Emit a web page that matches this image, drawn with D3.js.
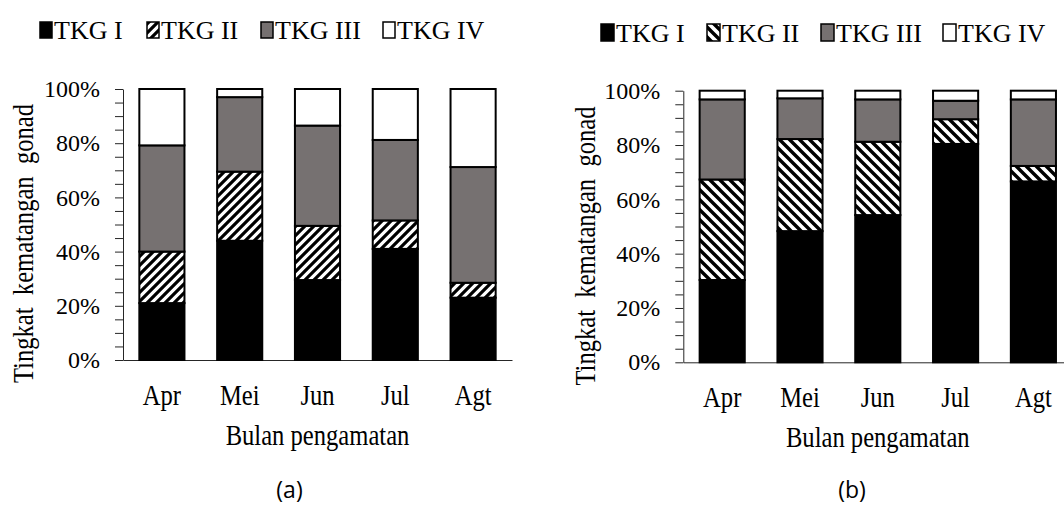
<!DOCTYPE html>
<html>
<head>
<meta charset="utf-8">
<script src="https://cdn.jsdelivr.net/npm/d3@7"></script>
<style>
  html, body { margin: 0; padding: 0; background: #fff; }
  svg { display: block; }
</style>
</head>
<body>
<script>
// Months, maturity stages and axis ticks
const months = ["Apr", "Mei", "Jun", "Jul", "Agt"];
const stages = ["TKG I", "TKG II", "TKG III", "TKG IV"];
const yTicks = [0, 20, 40, 60, 80, 100];

// Panel (a): share of each gonad maturity stage per month (%)
const tkgA1 = [21.0, 44.0, 29.5, 41.0, 23.0];
const tkgA2 = [19.0, 25.5, 20.0, 10.5, 5.5];
const tkgA3 = [39.2, 27.5, 37.0, 29.7, 42.7];
const tkgA4 = [20.8, 3.0, 13.5, 18.8, 28.8];

// Panel (b): share of each gonad maturity stage per month (%)
const tkgB1 = [30.3, 48.3, 54.2, 80.4, 66.6];
const tkgB2 = [37.0, 33.9, 27.0, 9.1, 5.7];
const tkgB3 = [29.5, 15.0, 15.6, 6.8, 24.5];
const tkgB4 = [3.2, 2.8, 3.2, 3.7, 3.2];

const W = 1064, H = 507;
const SERIF = "'Liberation Serif', 'Times New Roman', serif";
const SANS = "'Open Sans', 'Noto Sans', sans-serif";
const GRAY = "#767171";
const AXIS = "#262626";

const svg = d3.select("body").append("svg")
  .attr("width", W).attr("height", H)
  .style("background", "#fff");
const defs = svg.append("defs");

// Diagonal hatch: "fwd" = "/" stripes, "back" = "\" stripes
function hatch(id, dir, s, sw) {
  const p = defs.append("pattern")
    .attr("id", id)
    .attr("patternUnits", "userSpaceOnUse")
    .attr("width", s).attr("height", s);
  p.append("rect").attr("width", s).attr("height", s).attr("fill", "#fff");
  const d = dir === "fwd"
    ? `M${-s/2},${s/2}L${s/2},${-s/2}M0,${s}L${s},0M${s/2},${1.5*s}L${1.5*s},${s/2}`
    : `M${-s/2},${s/2}L${s/2},${1.5*s}M0,0L${s},${s}M${s/2},${-s/2}L${1.5*s},${s/2}`;
  p.append("path").attr("d", d)
    .attr("stroke", "#000").attr("stroke-width", sw)
    .attr("stroke-linecap", "square");
}
hatch("hatchA", "fwd", 9, 3.2);
hatch("hatchB", "back", 10, 3.4);

const panels = [
  {
    series: [tkgA1, tkgA2, tkgA3, tkgA4], hatchId: "hatchA",
    x0: 123, x1: 512, yBottom: 360, yTop: 89,
    titleX: 33, titleY: 243.5, caption: "(a)", captionX: 289.5,
    legendBoxX: [40, 147, 261, 383], legendTop: 22, boxW: 12, boxH: 16, legendBase: 39
  },
  {
    series: [tkgB1, tkgB2, tkgB3, tkgB4], hatchId: "hatchB",
    x0: 683.3, x1: 1072.3, yBottom: 362.3, yTop: 90.7,
    titleX: 595, titleY: 246, caption: "(b)", captionX: 852,
    legendBoxX: [601, 707, 821, 943], legendTop: 24, boxW: 13, boxH: 17, legendBase: 42
  }
];

function drawPanel(cfg) {
  const g = svg.append("g");
  const fills = ["#000", `url(#${cfg.hatchId})`, GRAY, "#fff"];
  const color = d3.scaleOrdinal().domain(stages).range(fills);

  const x = d3.scaleBand().domain(months)
    .range([cfg.x0, cfg.x1]).paddingInner(0.42).paddingOuter(0.21);
  const y = d3.scaleLinear().domain([0, 100]).range([cfg.yBottom, cfg.yTop]);

  const rows = months.map((m, i) => {
    const r = { month: m };
    stages.forEach((s, k) => { r[s] = cfg.series[k][i]; });
    return r;
  });
  const stacked = d3.stack().keys(stages)(rows);

  // y axis with minor ticks every 5 %
  const yAxis = d3.axisLeft(y)
    .tickValues(d3.range(0, 101, 5))
    .tickSize(8).tickSizeOuter(0).tickFormat("");
  const ya = g.append("g").attr("transform", `translate(${cfg.x0},0)`).call(yAxis);
  ya.selectAll("path, line").attr("stroke", AXIS);

  // y tick labels
  const yLab = d3.axisLeft(y).tickValues(yTicks).tickSize(0).tickPadding(23)
    .tickFormat(d => d + "%");
  const yl = g.append("g").attr("transform", `translate(${cfg.x0},0)`).call(yLab);
  yl.attr("font-family", null).attr("font-size", null);
  yl.select(".domain").remove();
  yl.selectAll("text")
    .style("font-family", SERIF).style("font-size", "24px").attr("fill", "#000");

  // x axis
  const xAxis = d3.axisBottom(x).tickSize(0).tickSizeOuter(0);
  const xa = g.append("g").attr("transform", `translate(0,${cfg.yBottom})`).call(xAxis);
  xa.attr("font-family", null).attr("font-size", null);
  xa.select(".domain").attr("stroke", AXIS);
  xa.selectAll("text")
    .attr("y", 45).attr("dy", 0)
    .attr("transform", "scale(0.82,1)")
    .style("font-family", SERIF).style("font-size", "30px").attr("fill", "#000");

  // stacked bars
  g.append("g").selectAll("g").data(stacked).join("g")
    .attr("fill", d => color(d.key))
    .selectAll("rect").data(d => d).join("rect")
      .attr("x", d => x(d.data.month))
      .attr("y", d => y(d[1]))
      .attr("width", x.bandwidth())
      .attr("height", d => y(d[0]) - y(d[1]))
      .attr("stroke", "#000").attr("stroke-width", 2);

  // axis titles
  g.append("text")
    .attr("transform", `translate(${(cfg.x0 + cfg.x1) / 2},${cfg.yBottom + 85}) scale(0.82,1)`)
    .attr("text-anchor", "middle")
    .style("font-family", SERIF).style("font-size", "30px")
    .text("Bulan pengamatan");

  g.append("text")
    .attr("transform", `translate(${cfg.titleX},${cfg.titleY}) rotate(-90) scale(0.82,1)`)
    .attr("text-anchor", "middle")
    .style("white-space", "pre")
    .style("font-family", SERIF).style("font-size", "30px")
    .text("Tingkat  kematangan  gonad");

  // panel caption
  g.append("text")
    .attr("x", cfg.captionX).attr("y", 498)
    .attr("text-anchor", "middle")
    .style("font-family", SANS).style("font-size", "23px")
    .text(cfg.caption);

  // legend
  const lg = g.append("g");
  stages.forEach((s, k) => {
    const bx = cfg.legendBoxX[k];
    lg.append("rect")
      .attr("x", bx).attr("y", cfg.legendTop)
      .attr("width", cfg.boxW).attr("height", cfg.boxH)
      .attr("fill", color(s)).attr("stroke", "#000").attr("stroke-width", 1.5);
    lg.append("text")
      .attr("x", bx + cfg.boxW + 2).attr("y", cfg.legendBase)
      .style("font-family", SERIF).style("font-size", "26px")
      .text(s);
  });
}

panels.forEach(drawPanel);
</script>
</body>
</html>
